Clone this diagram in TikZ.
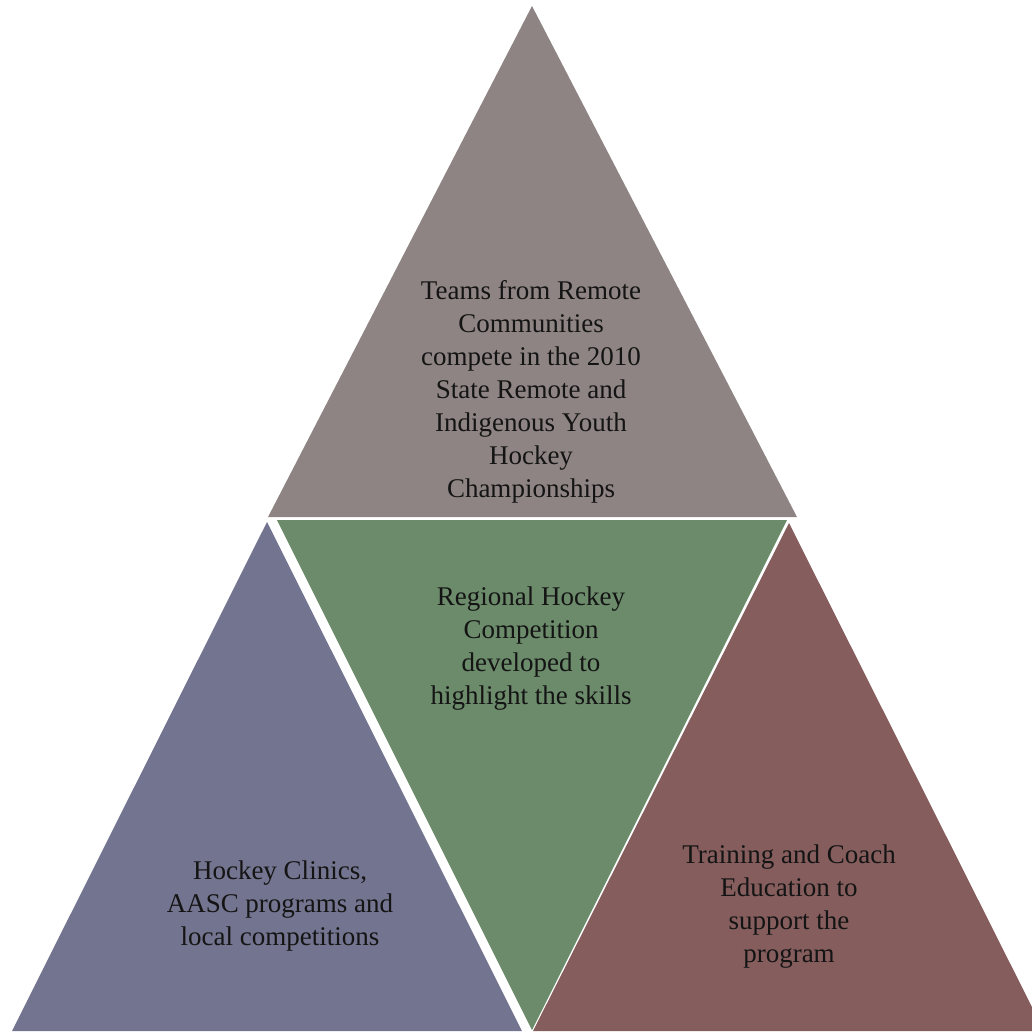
\documentclass[tikz,border=0pt]{standalone}
\usepackage{fontspec}
\setmainfont{Liberation Serif}
\usetikzlibrary{calc}
\definecolor{topgrey}{RGB}{143,132,132}
\definecolor{leftblue}{RGB}{115,116,143}
\definecolor{midgreen}{RGB}{107,139,107}
\definecolor{rightred}{RGB}{133,93,93}
\definecolor{inkdark}{RGB}{20,20,20}
\tikzset{
  label text/.style={text=inkdark,align=center,inner sep=0pt,
    font=\fontsize{27}{33}\selectfont}
}
\begin{document}
\begin{tikzpicture}[x=1pt,y=-1pt]
\useasboundingbox (0,0) rectangle (1032,1031);
\clip (0,0) rectangle (1032,1031);
% top triangle
\coordinate (TA) at (532,6);
\coordinate (TL) at (268,517);
\coordinate (TR) at (797,517);
\fill[topgrey] (TA) -- (TL) -- (TR) -- cycle;
% lower left triangle
\coordinate (LA) at (267,522);
\coordinate (LL) at (12,1031);
\coordinate (LR) at (522,1031);
\fill[leftblue] (LA) -- (LL) -- (LR) -- cycle;
% middle, upside down
\coordinate (ML) at (277,520);
\coordinate (MR) at (787,520);
\coordinate (MB) at (532,1030);
\fill[midgreen] (ML) -- (MR) -- (MB) -- cycle;
% lower right triangle
\coordinate (RA) at (789,523);
\coordinate (RL) at (533,1031);
\coordinate (RR) at (1044,1031);
\fill[rightred] (RA) -- (RL) -- (RR) -- cycle;

\node[label text] (toptext) at (531,392) {Teams from Remote\\Communities\\compete in the 2010\\State Remote and\\Indigenous Youth\\Hockey\\Championships};
\node[label text] (midtext) at (531,649) {Regional Hockey\\Competition\\developed to\\highlight the skills};
\node[label text] (lefttext) at (280,906) {Hockey Clinics,\\AASC programs and\\local competitions};
\node[label text] (righttext) at (789,907) {Training and Coach\\Education to\\support the\\program};
\end{tikzpicture}
\end{document}
